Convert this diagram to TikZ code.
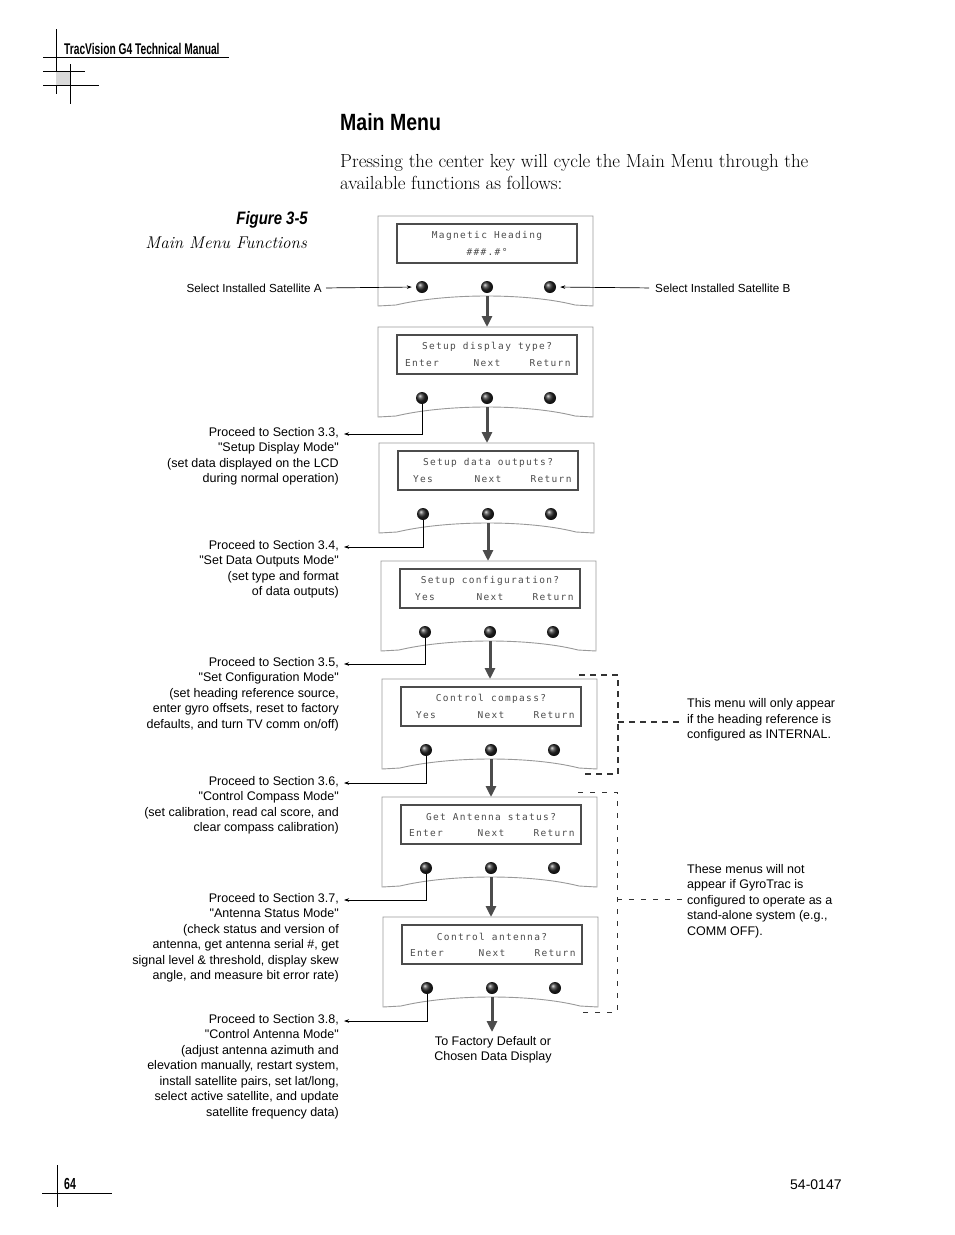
\documentclass[tikz,border=0pt]{standalone}
\usepackage{fontspec}
\usetikzlibrary{arrows.meta}

\newfontfamily\helv{Liberation Sans}
\newfontfamily\narrowfont[FakeStretch=0.66]{Liberation Sans}
\newfontfamily\condfont[FakeStretch=0.83]{Liberation Sans}
\newfontfamily\lcdfont[LetterSpace=14]{DejaVu Sans Mono}

\tikzset{
  panelline/.style={draw=black!40, line width=0.9pt, fill=white},
  lcd/.style={draw=black!70, line width=2.2pt},
  lcdtext/.style={font=\fontsize{9.5}{10}\selectfont\lcdfont, text=black!70, inner sep=0pt},
  btn/.style={circle, inner sep=0pt, minimum size=12pt, ball color=black!85},
  flow/.style={draw=black!70, line width=3pt, -{Triangle[length=11pt,width=10pt]}},
  link/.style={draw=black, line width=0.7pt, -{Stealth[length=5pt,width=3.5pt]}},
  note/.style={font=\fontsize{12.5}{15.5}\selectfont\helv, inner sep=0pt},
  satnote/.style={font=\fontsize{11.7}{14}\selectfont\helv, inner sep=0pt},
  leftnote/.style={note, align=right, anchor=north east},
  rightnote/.style={note, align=left, anchor=west},
  bracketA/.style={draw=black!80, line width=1.3pt, dash pattern=on 6pt off 5pt},
  bracketB/.style={draw=black!80, line width=0.8pt, dash pattern=on 5pt off 7pt},
}

% one handset panel: name, left, top, message, three soft keys
\newcommand{\menupanel}[7]{%
  \draw[panelline] (#2,#3) -- (#2+215,#3) -- (#2+215,#3+90) -- (#2+197,#3+89)
    .. controls (#2+150,#3+77) and (#2+68,#3+77) .. (#2+18,#3+89) -- (#2,#3+90) -- cycle;
  \coordinate (#1top) at (#2+109,#3);
  \draw[lcd] (#2+19,#3+8) rectangle (#2+199,#3+47);
  \node[lcdtext] (#1msg) at (#2+109,#3+20) {#4};
  \node[lcdtext] (#1l) at (#2+44,#3+36) {#5};
  \node[lcdtext] (#1m) at (#2+109,#3+36) {#6};
  \node[lcdtext] (#1r) at (#2+172,#3+36) {#7};
  \node[btn] (#1a) at (#2+44,#3+71) {};
  \node[btn] (#1b) at (#2+109,#3+71) {};
  \node[btn] (#1c) at (#2+172,#3+71) {};
}

\begin{document}
\begin{tikzpicture}[x=1pt, y=-1pt]
    \useasboundingbox (0,0) rectangle (954,1235);

    % page header marks
    \draw[line width=0.8pt] (56,29) -- (56,94);
    \draw[line width=0.8pt] (43,57) -- (229,57);
    \fill[black!15] (56,71) rectangle (70,85);
    \draw[line width=0.8pt] (70,64) -- (70,104);
    \draw[line width=0.8pt] (43,71) -- (85,71);
    \draw[line width=0.8pt] (43,85) -- (99,85);
    \node[font=\fontsize{15.5}{16}\selectfont\narrowfont\bfseries, anchor=west, inner sep=0pt] (header) at (64,49) {TracVision G4 Technical Manual};

    % title and intro
    \node[font=\fontsize{23.5}{24}\selectfont\condfont\bfseries, anchor=west, inner sep=0pt] (title) at (340,122) {Main Menu};
    \node[font=\fontsize{18.9}{22}\selectfont, anchor=north west, align=left, inner sep=0pt] (intro) at (340,154)
        {Pressing the center key will cycle the Main Menu through the\\available functions as follows:};
    \node[font=\fontsize{18}{20}\selectfont\condfont\bfseries\itshape, anchor=east, inner sep=0pt] (figno) at (308,220) {Figure 3-5};
    \node[font=\fontsize{17}{20}\selectfont\itshape, anchor=east, inner sep=0pt] (figcap) at (307,243) {Main Menu Functions};

    % panels
    \menupanel{p1}{378}{216}{Magnetic Heading}{}{\#\#\#.\#°}{}
    \menupanel{p2}{378}{327}{Setup display type?}{Enter}{Next}{Return}
    \menupanel{p3}{379}{443}{Setup data outputs?}{Yes}{Next}{Return}
    \menupanel{p4}{381}{561}{Setup configuration?}{Yes}{Next}{Return}
    \menupanel{p5}{382}{679}{Control compass?}{Yes}{Next}{Return}
    \menupanel{p6}{382}{797}{Get Antenna status?}{Enter}{Next}{Return}
    \menupanel{p7}{383}{917}{Control antenna?}{Enter}{Next}{Return}

    % next key flow
    \draw[flow, shorten <=3pt] (p1b.south) -- (p1b.south |- p2top);
    \draw[flow, shorten <=3pt] (p2b.south) -- (p2b.south |- p3top);
    \draw[flow, shorten <=3pt] (p3b.south) -- (p3b.south |- p4top);
    \draw[flow, shorten <=3pt] (p4b.south) -- (p4b.south |- p5top);
    \draw[flow, shorten <=3pt] (p5b.south) -- (p5b.south |- p6top);
    \draw[flow, shorten <=3pt] (p6b.south) -- (p6b.south |- p7top);
    \node[note, align=center, anchor=north] (finish) at (493,1036) {To Factory Default or\\Chosen Data Display};
    \draw[flow, shorten <=3pt, shorten >=4pt] (p7b.south) -- (p7b.south |- finish.north);

    % satellite keys
    \node[satnote, anchor=east] (satA) at (322,288) {Select Installed Satellite A};
    \node[satnote, anchor=west] (satB) at (655,288) {Select Installed Satellite B};
    \draw[link, shorten <=4pt, shorten >=4pt] (satA.east) -- (p1a.west);
    \draw[link, shorten <=6pt, shorten >=4pt] (satB.west) -- (p1c.east);

    % section notes
    \node[leftnote] (sec33) at (339,427) {Proceed to Section 3.3,\\"Setup Display Mode"\\(set data displayed on the LCD\\during normal operation)};
    \node[leftnote] (sec34) at (339,540) {Proceed to Section 3.4,\\"Set Data Outputs Mode"\\(set type and format~\\of data outputs)};
    \node[leftnote] (sec35) at (339,657) {Proceed to Section 3.5,\\"Set Configuration Mode"\\(set heading reference source,~\\enter gyro offsets, reset to factory\\defaults, and turn TV comm on/off)};
    \node[leftnote] (sec36) at (339,776) {Proceed to Section 3.6,\\"Control Compass Mode"\\(set calibration, read cal score, and\\clear compass calibration)};
    \node[leftnote] (sec37) at (339,893) {Proceed to Section 3.7,\\"Antenna Status Mode"\\(check status and version of\\antenna, get antenna serial \#, get\\signal level \& threshold, display skew\\angle, and measure bit error rate)};
    \node[leftnote] (sec38) at (339,1014) {Proceed to Section 3.8,\\"Control Antenna Mode"\\(adjust antenna azimuth and\\elevation manually, restart system,\\install satellite pairs, set lat/long,\\select active satellite, and update\\satellite frequency data)};

    \draw[link] (p2a.south) |- ([shift={(5pt,-7pt)}]sec33.north east);
    \draw[link] (p3a.south) |- ([shift={(5pt,-7pt)}]sec34.north east);
    \draw[link] (p4a.south) |- ([shift={(5pt,-7pt)}]sec35.north east);
    \draw[link] (p5a.south) |- ([shift={(5pt,-7pt)}]sec36.north east);
    \draw[link] (p6a.south) |- ([shift={(5pt,-7pt)}]sec37.north east);
    \draw[link] (p7a.south) |- ([shift={(5pt,-7pt)}]sec38.north east);

    % conditional menus
    \node[rightnote] (note1) at (687,720) {This menu will only appear\\if the heading reference is\\configured as INTERNAL.};
    \node[rightnote] (note2) at (687,901) {These menus will not\\appear if GyroTrac is\\configured to operate as a\\stand-alone system (e.g.,\\COMM OFF).};
    \draw[bracketA] (579,675) -- (618,675) -- (618,774) -- (583,774);
    \coordinate (brA) at (618,722);
    \draw[bracketA, shorten >=4pt] (brA) -- (note1.west |- brA);
    \draw[bracketB] (578,792) -- (617,792) -- (617,1012) -- (577,1012);
    \coordinate (brB) at (617,899);
    \draw[bracketB, shorten >=4pt] (brB) -- (note2.west |- brB);

    % page footer
    \draw[line width=0.8pt] (57,1165) -- (57,1207);
    \draw[line width=0.8pt] (42,1193) -- (112,1193);
    \node[font=\fontsize{16}{16}\selectfont\narrowfont\bfseries, anchor=west, inner sep=0pt] (pageno) at (64,1184) {64};
    \node[font=\fontsize{14}{14}\selectfont\helv, anchor=west, inner sep=0pt] (docno) at (790,1185) {54-0147};

\end{tikzpicture}
\end{document}
